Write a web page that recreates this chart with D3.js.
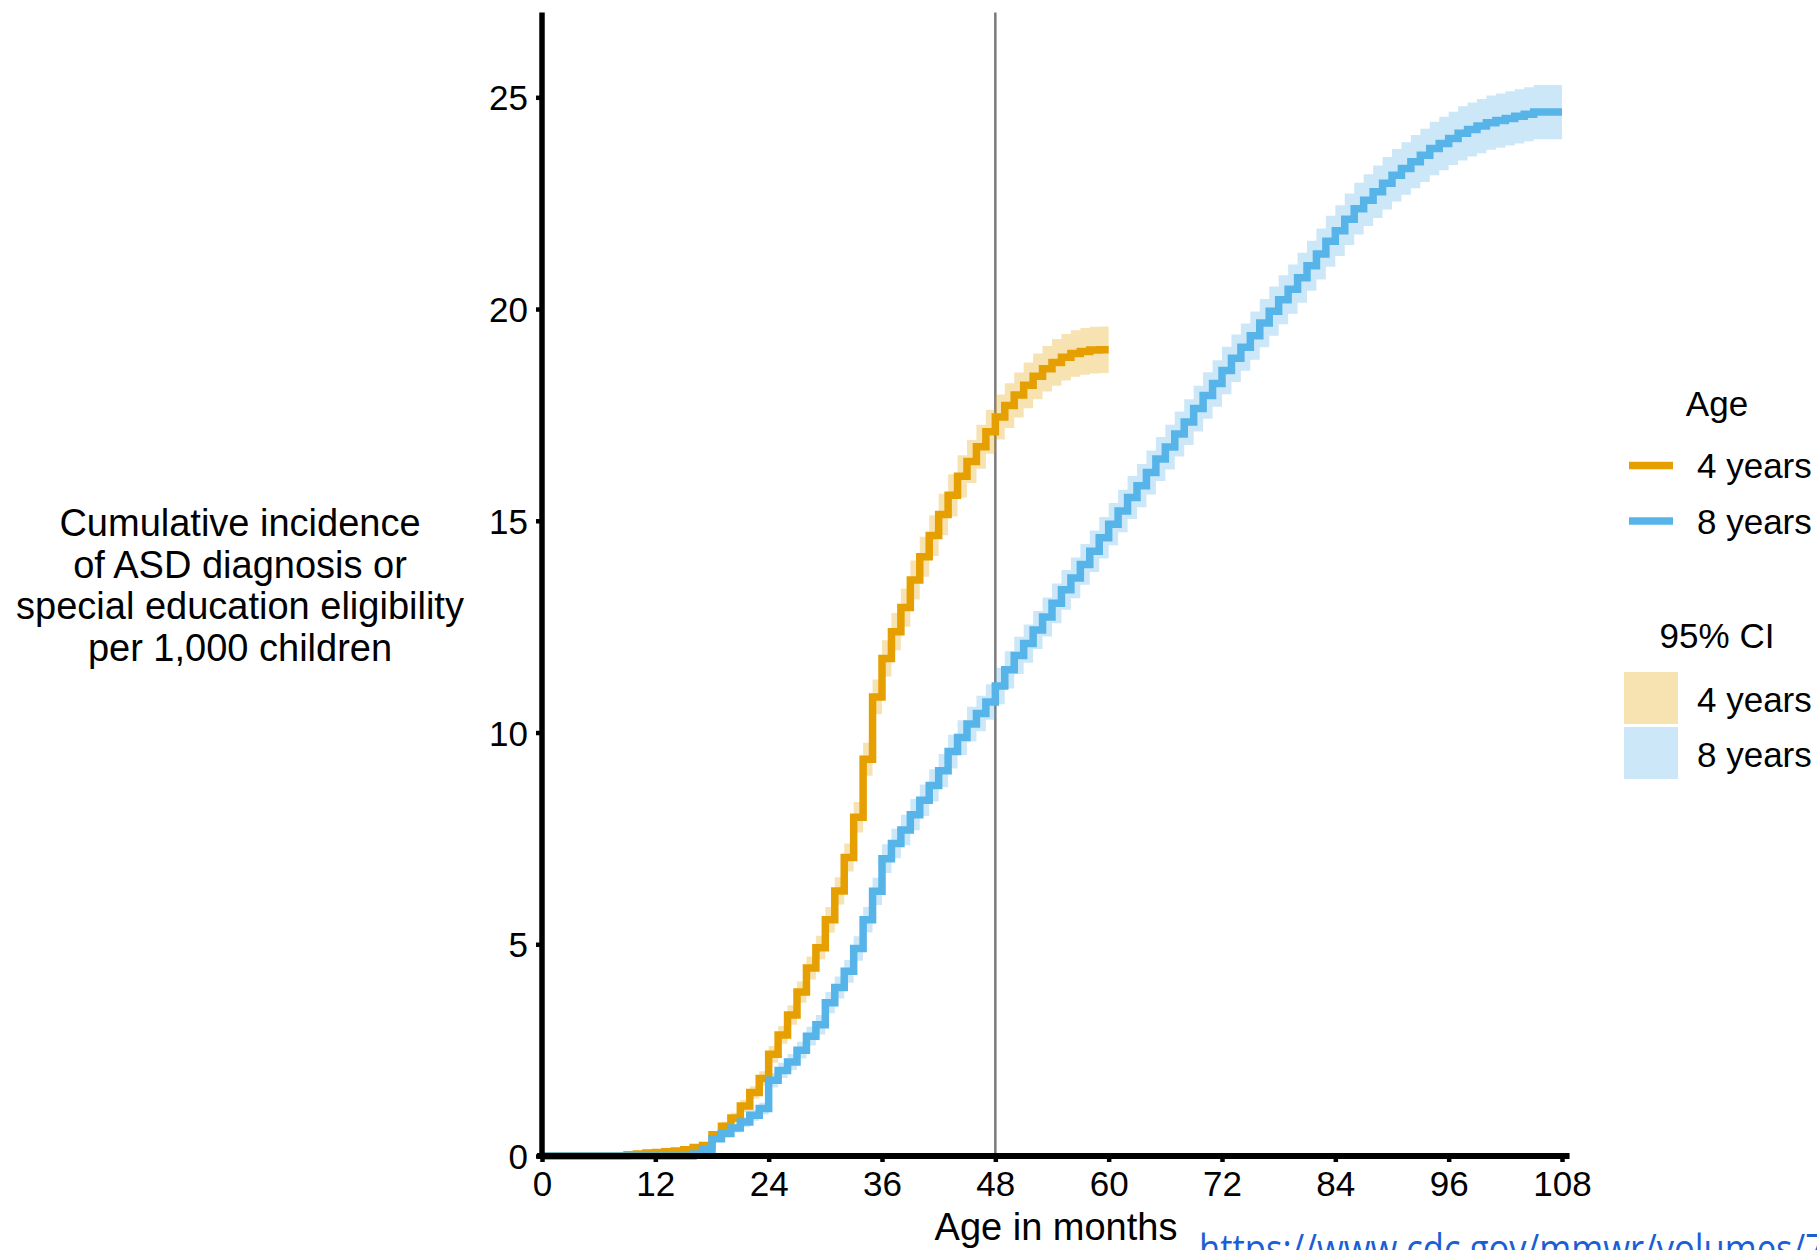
<!DOCTYPE html>
<html>
<head>
<meta charset="utf-8">
<script src="https://cdn.jsdelivr.net/npm/d3@7"></script>
<style>
  html, body { margin: 0; padding: 0; background: #fff; }
  svg { display: block; }
  text { font-family: "Liberation Sans", Arial, sans-serif; fill: #000; }
</style>
</head>
<body>
<svg id="chart" width="1817" height="1250"></svg>
<script>
// ---- Data (cumulative incidence per 1,000 children, value at start of each month) ----
const seriesNames = ["4 years", "8 years"];
const seriesColors = ["#E69F00", "#56B4E9"];
const xTicks = [0, 12, 24, 36, 48, 60, 72, 84, 96, 108];
const yTicks = [0, 5, 10, 15, 20, 25];
const refMonth = 48;

// 4-year cohort, months 0..60
const inc4 = [0,0,0,0,0,0,0,0,0,0.03,
  0.05,0.07,0.08,0.1,0.12,0.15,0.2,0.25,0.5,0.7,
  0.9,1.18,1.5,1.83,2.4,2.86,3.33,3.87,4.44,4.92,
  5.58,6.26,7.05,8.0,9.37,10.84,11.75,12.38,12.95,13.6,
  14.15,14.65,15.15,15.6,16.05,16.4,16.75,17.1,17.45,17.72,
  17.97,18.2,18.41,18.59,18.74,18.86,18.95,19.0,19.03,19.04,
  19.04];
// half-width of 95% CI, 4-year cohort
const ci4Half = [0,0,0,0,0,0,0,0,0,0.02,
  0.03,0.03,0.04,0.04,0.04,0.05,0.06,0.06,0.09,0.11,
  0.12,0.14,0.15,0.17,0.2,0.21,0.23,0.25,0.27,0.28,
  0.3,0.32,0.33,0.36,0.39,0.41,0.43,0.44,0.45,0.46,
  0.47,0.48,0.49,0.5,0.5,0.51,0.52,0.52,0.53,0.53,
  0.53,0.54,0.54,0.54,0.55,0.55,0.55,0.55,0.55,0.55,
  0.55];

// 8-year cohort, months 0..108
const inc8 = [0,0,0,0,0,0,0,0,0,0,
  0,0,0,0,0,0,0.05,0.15,0.41,0.53,
  0.66,0.8,0.96,1.12,1.79,2.02,2.22,2.5,2.83,3.1,
  3.62,3.98,4.36,4.9,5.58,6.25,7.02,7.38,7.7,8.06,
  8.4,8.75,9.1,9.55,9.88,10.2,10.45,10.72,11.1,11.48,
  11.82,12.1,12.42,12.73,13.05,13.37,13.65,13.97,14.28,14.6,
  14.92,15.23,15.55,15.83,16.14,16.46,16.74,17.05,17.33,17.65,
  17.96,18.24,18.55,18.84,19.1,19.37,19.67,19.95,20.22,20.47,
  20.74,21.02,21.3,21.6,21.85,22.12,22.37,22.57,22.77,22.97,
  23.16,23.32,23.48,23.63,23.79,23.91,24.03,24.15,24.24,24.32,
  24.4,24.45,24.5,24.55,24.6,24.65,24.65,24.65,24.65];
const ci8Half = [0,0,0,0,0,0,0,0,0,0,
  0,0,0,0,0,0,0.03,0.05,0.08,0.09,
  0.1,0.12,0.13,0.14,0.17,0.18,0.19,0.2,0.22,0.23,
  0.25,0.26,0.27,0.29,0.3,0.32,0.34,0.35,0.36,0.37,
  0.37,0.38,0.39,0.4,0.41,0.41,0.42,0.42,0.43,0.44,
  0.44,0.45,0.45,0.46,0.47,0.47,0.48,0.48,0.49,0.49,
  0.5,0.5,0.51,0.51,0.52,0.52,0.53,0.53,0.54,0.54,
  0.55,0.55,0.56,0.56,0.56,0.57,0.57,0.58,0.58,0.58,
  0.59,0.59,0.6,0.6,0.6,0.61,0.61,0.61,0.62,0.62,
  0.62,0.62,0.63,0.63,0.63,0.63,0.63,0.64,0.64,0.64,
  0.64,0.64,0.64,0.64,0.64,0.64,0.64,0.64,0.64];

const yTitleLines = ["Cumulative incidence", "of ASD diagnosis or", "special education eligibility", "per 1,000 children"];
const xTitle = "Age in months";
const sourceUrl = "https://www.cdc.gov/mmwr/volumes/7";

// ---- Layout ----
const svg = d3.select("#chart");
const x = d3.scaleLinear().domain([0, 108]).range([542, 1562]);
const y = d3.scaleLinear().domain([0, 25]).range([1156, 97.3]);
const yTop = y(27);

const toPts = (vals, half) => vals.map((v, i) => ({m: i, v: v, lo: Math.max(0, v - half[i]), hi: v + half[i]}));
const data = [toPts(inc4, ci4Half), toPts(inc8, ci8Half)];

// reference vertical line
svg.append("line")
  .attr("x1", x(refMonth)).attr("x2", x(refMonth))
  .attr("y1", yTop).attr("y2", y(0))
  .attr("stroke", "#7a7a7a").attr("stroke-width", 2.5);

// CI ribbons
const area = d3.area().curve(d3.curveStepAfter)
  .x(d => x(d.m)).y0(d => y(d.lo)).y1(d => y(d.hi));
data.forEach((pts, i) => {
  svg.append("path").datum(pts)
    .attr("d", area)
    .attr("fill", seriesColors[i]).attr("fill-opacity", 0.3);
});

// step lines
const line = d3.line().curve(d3.curveStepAfter).x(d => x(d.m)).y(d => y(d.v));
data.forEach((pts, i) => {
  svg.append("path").datum(pts)
    .attr("d", line)
    .attr("fill", "none")
    .attr("stroke", seriesColors[i])
    .attr("stroke-width", 7.5)
    .attr("stroke-linejoin", "miter");
});

// axes
const yAxis = d3.axisLeft(y).tickValues(yTicks).tickSize(6).tickPadding(8).tickFormat(d3.format("d"));
const gy = svg.append("g").attr("transform", `translate(${x(0)},0)`).call(yAxis);
gy.select(".domain").remove();
gy.selectAll(".tick line").attr("stroke", "#000").attr("stroke-width", 4.5);
gy.selectAll(".tick text").style("font-size", "35px").attr("fill", "#000").attr("dy", "0.36em");

const xAxis = d3.axisBottom(x).tickValues(xTicks).tickSize(6).tickPadding(8).tickFormat(d3.format("d"));
const gx = svg.append("g").attr("transform", `translate(0,${y(0)})`).call(xAxis);
gx.select(".domain").remove();
gx.selectAll(".tick line").attr("stroke", "#000").attr("stroke-width", 4.5);
gx.selectAll(".tick text").style("font-size", "35px").attr("fill", "#000").attr("y", 15).attr("dy", "0.71em");

// axis lines
svg.append("line").attr("x1", x(0)).attr("x2", x(0)).attr("y1", yTop).attr("y2", y(0) + 3)
  .attr("stroke", "#000").attr("stroke-width", 5.5);
svg.append("line").attr("x1", x(0) - 5).attr("x2", x(108.8)).attr("y1", y(0)).attr("y2", y(0))
  .attr("stroke", "#000").attr("stroke-width", 6);

// axis titles
const yt = svg.append("text").attr("text-anchor", "middle").style("font-size", "38px");
yTitleLines.forEach((t, i) => {
  yt.append("tspan").attr("x", 240).attr("y", 536 + i * 41.6).text(t);
});
svg.append("text").attr("x", 1056).attr("y", 1240).attr("text-anchor", "middle")
  .style("font-size", "38px").text(xTitle);

// legend
const lg = svg.append("g");
lg.append("text").attr("x", 1717).attr("y", 416).attr("text-anchor", "middle").style("font-size", "35px").text("Age");
seriesNames.forEach((n, i) => {
  const cy = 465.5 + i * 55.5;
  lg.append("line").attr("x1", 1629).attr("x2", 1673).attr("y1", cy).attr("y2", cy)
    .attr("stroke", seriesColors[i]).attr("stroke-width", 7.5);
  lg.append("text").attr("x", 1697).attr("y", cy + 12.5).style("font-size", "35px").text(n);
});
lg.append("text").attr("x", 1717).attr("y", 648).attr("text-anchor", "middle").style("font-size", "35px").text("95% CI");
seriesNames.forEach((n, i) => {
  const top = 672 + i * 55;
  lg.append("rect").attr("x", 1624).attr("y", top).attr("width", 54).attr("height", 52)
    .attr("fill", seriesColors[i]).attr("fill-opacity", 0.3);
  lg.append("text").attr("x", 1697).attr("y", top + 40).style("font-size", "35px").text(n);
});

// source URL (cut off at the edge, as in the original slide)
svg.append("text").attr("x", 1199).attr("y", 1263)
  .attr("textLength", 626).attr("lengthAdjust", "spacingAndGlyphs")
  .style("font-family", "'Open Sans', 'Noto Sans', sans-serif").style("font-size", "40px")
  .style("fill", "#1a5fd6").text(sourceUrl);
</script>
</body>
</html>
